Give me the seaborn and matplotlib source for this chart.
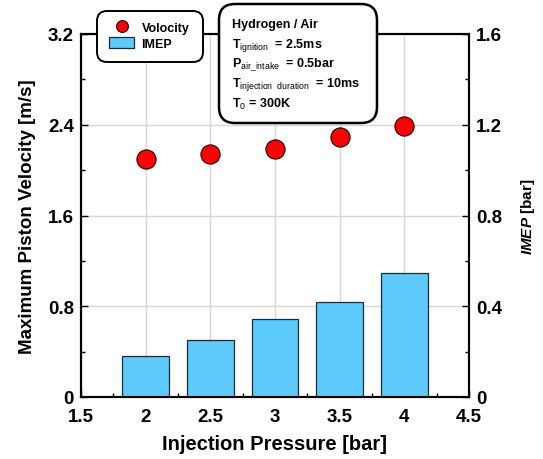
import matplotlib
matplotlib.use("Agg")
import matplotlib.pyplot as plt
import matplotlib.patches as mpatches
from matplotlib.lines import Line2D
from matplotlib.ticker import MultipleLocator
import pandas as pd
import seaborn as sns

# Injection pressure sweep, H2/air
pressure = [2.0, 2.5, 3.0, 3.5, 4.0]
velocity = [2.10, 2.14, 2.19, 2.29, 2.385]   # m/s
imep = [0.182, 0.250, 0.345, 0.420, 0.547]   # bar

x_ticks = [1.5, 2, 2.5, 3, 3.5, 4, 4.5]
x_tick_labels = ["1.5", "2", "2.5", "3", "3.5", "4", "4.5"]
vel_ticks = [0, 0.8, 1.6, 2.4, 3.2]
vel_tick_labels = ["0", "0.8", "1.6", "2.4", "3.2"]
imep_ticks = [0, 0.4, 0.8, 1.2, 1.6]
imep_tick_labels = ["0", "0.4", "0.8", "1.2", "1.6"]

df = pd.DataFrame({"pressure": pressure, "velocity": velocity, "imep": imep})

sns.set_theme(style="white")
plt.rcParams["font.family"] = ["Liberation Sans", "DejaVu Sans"]
plt.rcParams["text.color"] = "black"
plt.rcParams["axes.labelcolor"] = "black"
plt.rcParams["xtick.color"] = "black"
plt.rcParams["ytick.color"] = "black"
plt.rcParams["mathtext.fontset"] = "custom"
plt.rcParams["mathtext.rm"] = "Liberation Sans"
plt.rcParams["mathtext.it"] = "Liberation Sans:italic"
plt.rcParams["mathtext.bf"] = "Liberation Sans:bold"
plt.rcParams["mathtext.bfit"] = "Liberation Sans:italic:bold"

W, H = 543, 460
fig = plt.figure(figsize=(W / 100, H / 100), dpi=100)
ax = fig.add_axes([81 / W, 1 - 398 / H, 388 / W, 363 / H])
ax2 = ax.twinx()

# grid on the velocity axis, bars drawn over it
ax.set_axisbelow(True)
ax.grid(True, which="major", color="#d6d6d6", linewidth=1.0)

sns.barplot(data=df, x="pressure", y="imep", native_scale=True, width=0.72,
            color="#5ccbfb", saturation=1, edgecolor="#1c2b36", linewidth=0.9,
            ax=ax2, zorder=2)
sns.scatterplot(data=df, x="pressure", y="velocity", ax=ax, s=190,
                color="#ff0000", edgecolor="#1a0000", linewidth=0.8, zorder=3)

ax.set_xlim(1.5, 4.5)
ax.set_ylim(0, 3.2)
ax2.set_ylim(0, 1.6)
ax2.set_xlim(1.5, 4.5)

ax.set_xticks(x_ticks)
ax.set_xticklabels(x_tick_labels)
ax.set_yticks(vel_ticks)
ax.set_yticklabels(vel_tick_labels)
ax2.set_yticks(imep_ticks)
ax2.set_yticklabels(imep_tick_labels)
ax.xaxis.set_minor_locator(MultipleLocator(0.25))
ax.yaxis.set_minor_locator(MultipleLocator(0.4))
ax2.yaxis.set_minor_locator(MultipleLocator(0.2))

for a in (ax, ax2):
    for lab in a.get_xticklabels() + a.get_yticklabels():
        lab.set_fontweight("bold")
        lab.set_fontsize(13.5)
    a.tick_params(which="major", direction="in", length=5, width=1, colors="black")
    a.tick_params(which="minor", direction="in", length=3, width=1, colors="black")
    for s in a.spines.values():
        s.set_color("black")
        s.set_linewidth(1.5)
ax.tick_params(axis="x", which="both", bottom=True, top=False, pad=8)
ax.tick_params(axis="y", which="both", left=True, right=False, pad=5)
ax2.tick_params(axis="y", which="both", right=True, left=False, pad=5)
ax2.tick_params(axis="x", which="both", bottom=False, top=False, labelbottom=False)

ax.set_xlabel("Injection Pressure [bar]", fontsize=14.5, fontweight="bold")
ax.set_ylabel("Maximum Piston Velocity [m/s]", fontsize=13.5, fontweight="bold")
ax2.set_ylabel(r"$\mathbfit{IMEP}$ [bar]", fontsize=11, fontweight="bold")
ax.xaxis.set_label_coords(0.5, -0.128)
ax.xaxis.label.set_va("center")
ax.yaxis.set_label_coords(-0.138, 0.5)
ax.yaxis.label.set_va("center")
ax2.yaxis.set_label_coords(1.153, 0.5)
ax2.yaxis.label.set_va("center")

# legend combining both axes, inside a rounded box
leg_box = mpatches.FancyBboxPatch((97 / 100, (H - 63) / 100), 106 / 100, 51 / 100,
                                  boxstyle="round,pad=0,rounding_size=0.1",
                                  transform=fig.dpi_scale_trans, facecolor="white",
                                  edgecolor="black", linewidth=1.4, zorder=10)
fig.patches.append(leg_box)
handles = [
    Line2D([], [], linestyle="none", marker="o", markersize=8.5,
           markerfacecolor="#ff0000", markeredgecolor="#1a0000", markeredgewidth=0.8),
    mpatches.Patch(facecolor="#5ccbfb", edgecolor="#1c2b36", linewidth=0.9),
]
leg = fig.legend(handles, ["Volocity", "IMEP"], loc="upper left",
                 bbox_to_anchor=(109 / W, 1 - 22 / H), frameon=False,
                 prop=dict(family="Liberation Sans", weight="bold", size=9),
                 handlelength=2.0, handleheight=1.05, borderpad=0,
                 labelspacing=0.2, handletextpad=0.6, borderaxespad=0)
leg.set_zorder(11)

# conditions box
box = mpatches.FancyBboxPatch((219 / 100, (H - 124) / 100), 158 / 100, 119 / 100,
                              boxstyle="round,pad=0,rounding_size=0.16",
                              transform=fig.dpi_scale_trans, facecolor="white",
                              edgecolor="black", linewidth=1.8, zorder=10)
fig.patches.append(box)
lines = [
    (25, "Hydrogen / Air"),
    (46, r"T$_{\mathrm{ignition}}$  = 2.5ms"),
    (65, r"P$_{\mathrm{air\_intake}}$  = 0.5bar"),
    (85, r"T$_{\mathrm{injection\ \ duration}}$  = 10ms"),
    (104, r"T$_{\mathrm{0}}$ = 300K"),
]
for yy, s in lines:
    fig.text(232 / W, 1 - yy / H, s, fontsize=9, fontweight="bold",
             ha="left", va="center", zorder=11)

fig.savefig("out.png", dpi=100)
